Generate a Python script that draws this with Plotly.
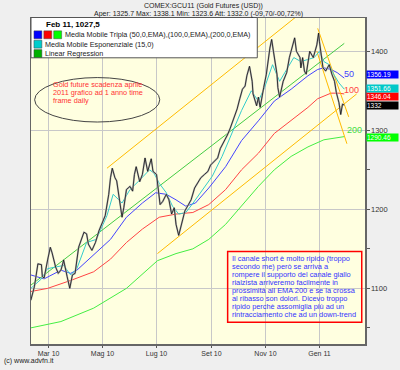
import plotly.graph_objects as go

# ---------------- data ----------------
price_dates = ["2010-02-09","2010-02-13","2010-02-17","2010-02-21","2010-02-22","2010-02-24","2010-02-28",
 "2010-03-03","2010-03-05","2010-03-09","2010-03-12","2010-03-15","2010-03-17","2010-03-18","2010-03-22",
 "2010-03-25","2010-03-28","2010-03-31","2010-04-04","2010-04-08","2010-04-10","2010-04-13","2010-04-15",
 "2010-04-19","2010-04-23","2010-04-27","2010-04-30","2010-05-04","2010-05-08","2010-05-10","2010-05-12",
 "2010-05-15","2010-05-17","2010-05-20","2010-05-23","2010-05-25","2010-05-28","2010-06-01","2010-06-04",
 "2010-06-06","2010-06-08","2010-06-12","2010-06-15","2010-06-18","2010-06-21","2010-06-25","2010-06-27",
 "2010-07-01","2010-07-03","2010-07-05","2010-07-08","2010-07-12","2010-07-15","2010-07-18","2010-07-21",
 "2010-07-23","2010-07-26","2010-07-29","2010-08-02","2010-08-06","2010-08-09","2010-08-13","2010-08-17",
 "2010-08-20","2010-08-24","2010-08-28","2010-08-31","2010-09-04","2010-09-08","2010-09-11","2010-09-15",
 "2010-09-19","2010-09-22","2010-09-26","2010-09-30","2010-10-03","2010-10-06","2010-10-09","2010-10-11",
 "2010-10-14","2010-10-17","2010-10-18","2010-10-20","2010-10-22","2010-10-24","2010-10-26","2010-10-30",
 "2010-11-02","2010-11-06","2010-11-08","2010-11-10","2010-11-14","2010-11-15","2010-11-17","2010-11-21",
 "2010-11-25","2010-11-28","2010-12-01","2010-12-04","2010-12-06","2010-12-10","2010-12-11","2010-12-13",
 "2010-12-15","2010-12-17","2010-12-21","2010-12-25","2010-12-29","2010-12-31","2011-01-01","2011-01-03",
 "2011-01-05","2011-01-08","2011-01-12","2011-01-15","2011-01-18","2011-01-20","2011-01-23","2011-01-25",
 "2011-01-27","2011-01-29"]
price_vals = [1085,1102,1131,1130,1115,1113,1136,
 1152,1145,1127,1119,1123,1131,1136,1115,
 1100,1117,1119,1152,1165,1171,1169,1156,
 1148,1158,1173,1181,1192,1219,1240,1252,
 1240,1236,1215,1190,1202,1225,1229,1223,
 1244,1254,1235,1244,1265,1248,1264,1248,
 1244,1223,1206,1210,1219,1212,1194,1202,
 1181,1167,1181,1198,1206,1212,1227,1235,
 1240,1244,1248,1256,1260,1265,1277,1285,
 1294,1302,1315,1327,1340,1352,1356,1369,
 1381,1362,1346,1337,1331,1342,1329,1354,
 1371,1404,1415,1400,1371,1354,1342,1362,
 1373,1392,1404,1417,1400,1392,1379,1392,
 1375,1371,1400,1392,1408,1423,1412,1392,
 1379,1375,1383,1371,1362,1348,1335,1320,
 1333,1332]

ema15_dates = ["2010-02-09","2010-02-21","2010-02-28","2010-03-11","2010-03-18","2010-03-26","2010-04-02",
 "2010-04-13","2010-04-24","2010-05-06","2010-05-13","2010-05-23","2010-06-01","2010-06-12","2010-06-23",
 "2010-06-28","2010-07-04","2010-07-12","2010-07-19","2010-07-26","2010-08-03","2010-08-10","2010-08-22",
 "2010-09-02","2010-09-13","2010-09-24","2010-10-05","2010-10-16","2010-10-24","2010-10-31","2010-11-09",
 "2010-11-17","2010-11-26","2010-12-03","2010-12-11","2010-12-19","2010-12-26","2011-01-01","2011-01-06",
 "2011-01-12","2011-01-17","2011-01-23","2011-01-29"]
ema15_vals = [1100,1112,1125,1127,1129,1117,1125,
 1158,1162,1192,1219,1208,1225,1237,1250,
 1246,1233,1221,1204,1194,1196,1206,1225,
 1242,1267,1296,1325,1350,1337,1354,1383,
 1362,1379,1392,1387,1390,1392,1400,1387,
 1383,1371,1360,1352]

ema50_dates = ["2010-02-09","2010-02-24","2010-03-15","2010-03-26","2010-04-02","2010-04-21","2010-05-10",
 "2010-05-28","2010-06-15","2010-06-30","2010-07-12","2010-07-23","2010-08-03","2010-08-14","2010-08-29",
 "2010-09-17","2010-10-05","2010-10-24","2010-11-11","2010-11-30","2010-12-19","2010-12-30","2011-01-06",
 "2011-01-14","2011-01-21","2011-01-29"]
ema50_vals = [1117,1112,1123,1119,1123,1142,1162,
 1190,1208,1221,1219,1212,1204,1208,1227,
 1254,1287,1312,1337,1352,1369,1377,1379,
 1377,1373,1366]

ema100_dates = ["2010-02-09","2010-02-28","2010-03-26","2010-04-21","2010-05-10","2010-05-28","2010-06-15",
 "2010-07-04","2010-07-23","2010-08-11","2010-08-29","2010-09-17","2010-10-05","2010-10-24","2010-11-11",
 "2010-11-30","2010-12-19","2010-12-30","2011-01-14","2011-01-23","2011-01-29"]
ema100_vals = [1096,1100,1110,1121,1137,1158,1175,
 1190,1194,1196,1206,1225,1250,1271,1296,
 1312,1329,1340,1347,1347,1346]

ema200_dates = ["2010-02-09","2010-03-15","2010-04-21","2010-05-28","2010-07-02","2010-07-23","2010-08-11",
 "2010-08-29","2010-09-17","2010-10-05","2010-10-24","2010-11-11","2010-11-30","2010-12-19","2011-01-06",
 "2011-01-29"]
ema200_vals = [1050,1058,1075,1100,1135,1144,1150,
 1162,1181,1204,1229,1250,1267,1279,1288,
 1292]

regression_dates = ["2010-02-09", "2011-01-29"]
regression_vals = [1104, 1410]

channel_up_top_dates = ["2010-05-06", "2010-12-06"]
channel_up_top_vals = [1252, 1444]
channel_up_bot_dates = ["2010-07-02", "2011-02-12"]
channel_up_bot_vals = [1144, 1346]
channel_dn_a_dates = ["2010-12-30", "2011-02-03"]
channel_dn_a_vals = [1429, 1317]
channel_dn_b_dates = ["2010-12-29", "2011-02-01"]
channel_dn_b_vals = [1400, 1283]

month_ticks = ["2010-03-01","2010-05-01","2010-07-01","2010-09-01","2010-11-01","2011-01-01"]
month_labels = ["Mar 10","Mag 10","Lug 10","Set 10","Nov 10","Gen 11"]
price_ticks = [1100, 1200, 1300, 1400]

last_labels = [  # (text, value, colour, shift in px)
    ("1346.04", 1346.04, "#ff0000", -3),
    ("1356.19", 1356.19, "#0000ff", 11),
    ("1351.66", 1351.66, "#00c8c8", 1),
    ("1332", 1332.0, "#000000", 0),
    ("1290.46", 1290.46, "#00ff00", 0),
]

ellipse_lines = ["Gold future scadenza aprile", "2011 grafico ad 1 anno time", "frame daily"]
note_lines = ["Il canale short è molto ripido (troppo",
              "secondo me) però se arriva a",
              "rompere il supporto del canale giallo",
              "rialzista arriveremo facilmente in",
              "prossimità all EMA 200 e se la crossa",
              "al ribasso son dolori. Dicevo troppo",
              "ripido perchè assomiglia più ad un",
              "rintracciamento che ad un down-trend"]

# ---------------- figure ----------------
FONT = "Arial, Liberation Sans, sans-serif"
W, H = 400, 370
L, R, T, B = 31, 369, 18, 348

def px(x):
    return (x - L) / (R - L)

def py(y):
    return (B - y) / (B - T)

fig = go.Figure()

def line(xs, ys, color, width=1):
    fig.add_trace(go.Scatter(x=xs, y=ys, mode="lines", line=dict(color=color, width=width),
                             hoverinfo="skip", showlegend=False))

line(ema200_dates, ema200_vals, "#44ee44")
line(ema100_dates, ema100_vals, "#ff4444")
line(ema50_dates, ema50_vals, "#4444ff")
line(regression_dates, regression_vals, "#44cc44")
line(channel_up_top_dates, channel_up_top_vals, "#ffbb00")
line(channel_up_bot_dates, channel_up_bot_vals, "#ffbb00")
line(channel_dn_a_dates, channel_dn_a_vals, "#ffbb00")
line(channel_dn_b_dates, channel_dn_b_vals, "#ffbb00")
line(ema15_dates, ema15_vals, "#33cccc")
line(price_dates, price_vals, "#b4b4b4", 1.8)
line(price_dates, price_vals, "#111111", 0.8)

fig.update_layout(
    width=W, height=H,
    margin=dict(l=L, r=W - R, t=T, b=H - B, pad=0),
    paper_bgcolor="#efefef", plot_bgcolor="#ffffe0",
    font=dict(family=FONT, size=8, color="#222222"),
    showlegend=False,
    xaxis=dict(type="date", range=["2010-02-09 05:00", "2011-02-21 10:00"],
               tickvals=month_ticks, ticktext=month_labels,
               showgrid=True, gridcolor="#c8c8c8", gridwidth=1,
               ticks="outside", ticklen=2, tickcolor="#555555",
               tickfont=dict(size=7, color="#333333"), ticklabelstandoff=0,
               showline=True, linecolor="#666666", linewidth=1.5, mirror=True,
               zeroline=False, fixedrange=True),
    yaxis=dict(range=[1029.6, 1442.1], side="right",
               tickvals=price_ticks, showgrid=True, gridcolor="#c8c8c8", gridwidth=1,
               ticks="outside", ticklen=3, tickcolor="#555555",
               minor=dict(dtick=50, ticks="outside", ticklen=3, tickcolor="#555555", showgrid=False),
               tickfont=dict(size=7.5, color="#333333"),
               showline=True, linecolor="#666666", linewidth=1.5, mirror=True,
               zeroline=False, fixedrange=True),
)

shapes = []
ann = []

def text(t, x, y, size=7.5, color="#222222", anchor="left"):
    ann.append(dict(text=t, x=px(x), y=py(y), xref="paper", yref="paper", showarrow=False,
                    font=dict(size=size, color=color), xanchor=anchor, yanchor="middle",
                    borderpad=0))

# title lines
text("COMEX:GCU11 (Gold Futures (USD))", 206, 6, 7, anchor="center")
text("Aper: 1325.7 Max: 1338.1 Min: 1323.6 Att: 1332.0 (-09,70/-00,72%)", 200.5, 14, 7, anchor="center")

# legend box
shapes.append(dict(type="rect", xref="paper", yref="paper", x0=px(31), x1=px(260), y0=py(58.3), y1=py(17.5),
                   line=dict(color="#555555", width=1), fillcolor="#ffffff", layer="above"))
for (x0, y0, c) in [(34, 31, "#0000ff"), (44, 31, "#ff0000"), (54, 31, "#00ff00"),
                    (34, 40.5, "#00cccc"), (34, 50, "#00b000")]:
    shapes.append(dict(type="rect", xref="paper", yref="paper", x0=px(x0), x1=px(x0 + 8),
                       y0=py(y0 + 8), y1=py(y0), line=dict(color="#444444", width=0.5),
                       fillcolor=c, layer="above"))
text("<b>Feb 11, 1027,5</b>", 45, 25, 8, "#000000")
text("Media Mobile Tripla (50,0,EMA),(100,0,EMA),(200,0,EMA)", 64, 35, 7.2)
text("Media Mobile Esponenziale (15,0)", 44, 44.5, 7.2)
text("Linear Regression", 44, 54, 7.2)

# ellipse note
shapes.append(dict(type="circle", xref="paper", yref="paper", x0=px(34.7), x1=px(161.3),
                   y0=py(123.3), y1=py(78.3), line=dict(color="#444444", width=1)))
for i, t in enumerate(ellipse_lines):
    text(t, 52, 85 + 8.2 * i, 7.3, "#ff3333")

# red box note
shapes.append(dict(type="rect", xref="paper", yref="paper", x0=px(230), x1=px(365.7),
                   y0=py(326), y1=py(254.3), line=dict(color="#ff0000", width=1.5)))
for i, t in enumerate(note_lines):
    text(t, 233, 261.5 + 8.15 * i, 7.4, "#3333ff")

# EMA period labels
ann.append(dict(text="50", x="2011-02-03", y=1371.5, showarrow=False, font=dict(size=9, color="#4444ff"),
                xanchor="center", yanchor="middle"))
ann.append(dict(text="100", x="2011-02-06", y=1351, showarrow=False, font=dict(size=9, color="#ff4444"),
                xanchor="center", yanchor="middle"))
ann.append(dict(text="200", x="2011-02-09", y=1300, showarrow=False, font=dict(size=9, color="#44dd44"),
                xanchor="center", yanchor="middle"))

# last-value boxes at right
for (txt, v, c, sh) in last_labels:
    ann.append(dict(text=txt, x=1, xref="paper", y=v, yref="y", xanchor="left", yanchor="middle",
                    xshift=1, yshift=sh, showarrow=False, bgcolor=c, width=31, height=7, align="left",
                    borderpad=0, font=dict(size=6.5, color="#ffffff")))

# copyright
text("(c) www.advfn.it", 3, 365, 7)

fig.update_layout(shapes=shapes, annotations=ann)

fig.write_html("out.html", config={"displayModeBar": False, "staticPlot": True},
               post_script="document.body.style.margin='0';")
